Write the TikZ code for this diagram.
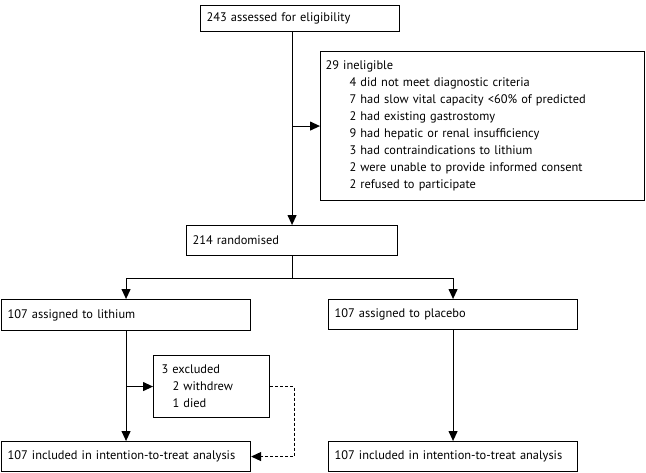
\documentclass[tikz,border=0pt]{standalone}
\usepackage{fontspec}
\setmainfont{PT Sans}
\usetikzlibrary{arrows.meta,positioning,calc}
\tikzset{
  box/.style={draw,line width=1.1pt,anchor=north west,align=left,inner xsep=6pt,inner ysep=0pt,font=\fontsize{12.4}{17}\selectfont},
  ar/.style={-{Triangle[length=10pt,width=9pt]},line width=1.1pt},
  dar/.style={ar,dash pattern=on 3pt off 2pt},
}
\newcommand{\sub}[1]{\hspace*{#1pt}}
\begin{document}
\begin{tikzpicture}[x=1pt,y=-1pt]
\useasboundingbox (0,0) rectangle (646,472);
\node[box,text width=187pt,minimum height=26pt] (assess) at (200,5) {243 assessed for eligibility};
\node[box,inner xsep=5pt,text width=314pt,minimum height=149pt] (inelig) at (320,51) {29 ineligible\\
\sub{24}4 did not meet diagnostic criteria\\
\sub{24}7 had slow vital capacity <60\% of predicted\\
\sub{24}2 had existing gastrostomy\\
\sub{24}9 had hepatic or renal insufficiency\\
\sub{24}3 had contraindications to lithium\\
\sub{24}2 were unable to provide informed consent\\
\sub{24}2 refused to participate};
\node[box,text width=199pt,minimum height=30pt] (rand) at (186,225) {214 randomised};
\node[box,text width=237pt,minimum height=31pt] (lith) at (1,299) {107 assigned to lithium};
\node[box,text width=237pt,minimum height=30pt] (plac) at (328,299) {107 assigned to placebo};
\node[box,inner xsep=8pt,text width=100pt,minimum height=62pt] (excl) at (153,355) {3 excluded\\
\sub{11}2 withdrew\\
\sub{11}1 died};
\node[box,text width=237pt,minimum height=30pt] (ittL) at (1,441) {107 included in intention-to-treat analysis};
\node[box,text width=237pt,minimum height=30pt] (ittP) at (328,441) {107 included in intention-to-treat analysis};
\coordinate (split) at ($(rand.south)+(0,22)$);
\draw[ar] (assess.south -| rand.north) -- (rand.north);
\draw[ar] (rand.north |- inelig.west) -- (inelig.west);
\draw[line width=1.1pt] (rand.south) -- (split);
\draw[ar] (split) -| (lith.north);
\draw[ar] (split) -| (plac.north);
\draw[ar] (lith.south) -- (ittL.north);
\draw[ar] (lith.south |- excl.west) -- (excl.west);
\draw[dar] (excl.east) -- ++(24,0) |- (ittL.east);
\draw[ar] (plac.south) -- (ittP.north);
\end{tikzpicture}
\end{document}
